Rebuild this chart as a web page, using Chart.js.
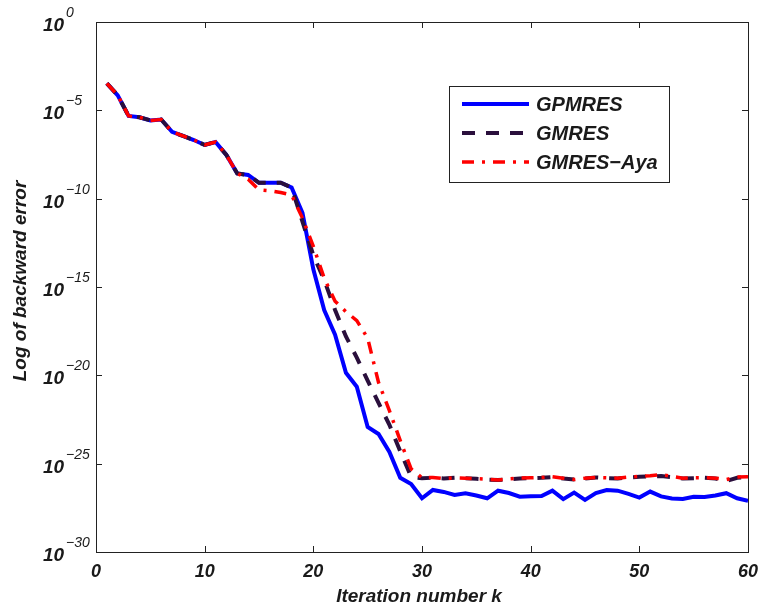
<!DOCTYPE html>
<html>
<head>
<meta charset="utf-8">
<script src="https://cdn.jsdelivr.net/npm/chart.js@4"></script>
<style>
  html, body { margin: 0; padding: 0; background: #fff; }
  canvas { display: block; }
</style>
</head>
<body>
<canvas id="myChart" width="762" height="611"></canvas>
<script>
// iteration number k
const iterations = [1, 2, 3, 4, 5, 6, 7, 8, 9, 10, 11, 12, 13, 14, 15, 16, 17, 18, 19, 20,
  21, 22, 23, 24, 25, 26, 27, 28, 29, 30, 31, 32, 33, 34, 35, 36, 37, 38, 39, 40,
  41, 42, 43, 44, 45, 46, 47, 48, 49, 50, 51, 52, 53, 54, 55, 56, 57, 58, 59, 60];

// log10 of the backward error
const gpmresExp = [-3.47, -4.15, -5.32, -5.39, -5.57, -5.52, -6.22, -6.45, -6.68, -6.96,
  -6.79, -7.53, -8.57, -8.66, -9.1, -9.1, -9.1, -9.37, -10.8, -14.0,
  -16.3, -17.7, -19.86, -20.64, -22.92, -23.32, -24.34, -25.8, -26.15, -26.96,
  -26.49, -26.6, -26.77, -26.67, -26.8, -26.96, -26.53, -26.66, -26.87, -26.85,
  -26.83, -26.53, -27.01, -26.64, -27.05, -26.66, -26.49, -26.53, -26.71, -26.92,
  -26.58, -26.85, -26.97, -27.0, -26.87, -26.88, -26.8, -26.67, -26.96, -27.1];

const gmresExp = [-3.47, -4.15, -5.32, -5.39, -5.57, -5.52, -6.22, -6.45, -6.68, -6.96,
  -6.79, -7.53, -8.57, -8.66, -9.1, -9.1, -9.1, -9.37, -11.3, -13.2,
  -14.6, -16.3, -17.8, -19.0, -20.3, -21.56, -22.8, -24.3, -25.75, -25.82,
  -25.8, -25.84, -25.8, -25.83, -25.86, -25.9, -25.92, -25.88, -25.84, -25.82,
  -25.8, -25.76, -25.84, -25.9, -25.84, -25.78, -25.82, -25.84, -25.78, -25.74,
  -25.72, -25.7, -25.76, -25.84, -25.82, -25.8, -25.84, -25.98, -25.8, -25.76];

const gmresAyaExp = [-3.47, -4.15, -5.32, -5.39, -5.57, -5.52, -6.22, -6.45, -6.68, -6.96,
  -6.79, -7.53, -8.57, -8.9, -9.5, -9.55, -9.65, -9.8, -11.1, -12.7,
  -14.5, -15.8, -16.4, -16.9, -17.9, -20.4, -22.0, -23.7, -25.3, -25.8,
  -25.78, -25.85, -25.8, -25.82, -25.85, -25.88, -25.92, -25.86, -25.82, -25.8,
  -25.78, -25.74, -25.82, -25.9, -25.82, -25.78, -25.8, -25.82, -25.76, -25.72,
  -25.68, -25.62, -25.72, -25.82, -25.8, -25.8, -25.82, -25.9, -25.76, -25.74];

const xTicks = [0, 10, 20, 30, 40, 50, 60];
const yTickExps = [0, -5, -10, -15, -20, -25, -30];

const chartSelect = document.getElementById('myChart');

let toPoints = (exps) => iterations.map((k, i) => ({ x: k, y: Math.pow(10, exps[i]) }));

const boldItalic = (size) => 'italic bold ' + size + 'px "Liberation Sans", Arial, sans-serif';

// frame, inward ticks, labels and legend drawn MATLAB style
const matlabAxes = {
  id: 'matlabAxes',
  afterDraw(chart) {
    const ctx = chart.ctx;
    const area = chart.chartArea;
    const xs = chart.scales.x;
    const ys = chart.scales.y;
    const tl = 6;
    ctx.save();
    ctx.strokeStyle = '#222';
    ctx.lineWidth = 1;
    ctx.strokeRect(area.left + 0.5, area.top + 0.5, area.right - area.left, area.bottom - area.top);

    ctx.beginPath();
    xTicks.forEach(t => {
      const px = Math.round(xs.getPixelForValue(t)) + 0.5;
      ctx.moveTo(px, area.bottom); ctx.lineTo(px, area.bottom - tl);
      ctx.moveTo(px, area.top); ctx.lineTo(px, area.top + tl);
    });
    yTickExps.forEach(e => {
      const py = Math.round(ys.getPixelForValue(Math.pow(10, e))) + 0.5;
      ctx.moveTo(area.left, py); ctx.lineTo(area.left + tl, py);
      ctx.moveTo(area.right, py); ctx.lineTo(area.right - tl, py);
    });
    ctx.stroke();

    ctx.fillStyle = '#1a1a1a';
    // x tick labels
    ctx.font = boldItalic(18);
    ctx.textAlign = 'center';
    ctx.textBaseline = 'alphabetic';
    xTicks.forEach(t => {
      ctx.fillText(String(t), xs.getPixelForValue(t), area.bottom + 25);
    });
    // y tick labels 10^e
    yTickExps.forEach(e => {
      const py = ys.getPixelForValue(Math.pow(10, e));
      ctx.textAlign = 'left';
      ctx.font = boldItalic(19);
      ctx.fillText('10', 43, py + 9);
      ctx.font = 'italic 14px "Liberation Sans", Arial, sans-serif';
      ctx.fillText(e === 0 ? '0' : '\u2212' + Math.abs(e), 66, py - 5);
    });
    // axis titles
    ctx.font = boldItalic(19);
    ctx.textAlign = 'center';
    ctx.fillText('Iteration number k', (area.left + area.right) / 2 - 3, area.bottom + 50);
    ctx.save();
    ctx.translate(26, 281);
    ctx.rotate(-Math.PI / 2);
    ctx.fillText('Log of backward error', 0, 0);
    ctx.restore();

    // legend
    const lx = 449, ly = 86, lw = 220, lh = 96;
    ctx.fillStyle = '#fff';
    ctx.fillRect(lx, ly, lw, lh);
    ctx.strokeStyle = '#222';
    ctx.lineWidth = 1;
    ctx.strokeRect(lx + 0.5, ly + 0.5, lw, lh);
    chart.data.datasets.forEach((ds, i) => {
      const y = ly + 18 + i * 29;
      ctx.save();
      ctx.strokeStyle = ds.borderColor;
      ctx.lineWidth = ds.borderWidth;
      ctx.setLineDash(ds.borderDash || []);
      ctx.beginPath();
      ctx.moveTo(lx + 13, y);
      ctx.lineTo(lx + 80, y);
      ctx.stroke();
      ctx.restore();
      ctx.fillStyle = '#1a1a1a';
      ctx.font = boldItalic(20);
      ctx.textAlign = 'left';
      ctx.fillText(ds.label, lx + 87, y + 7);
    });
    ctx.restore();
  }
};

var myChart = new Chart(chartSelect, {
  type: 'line',
  data: {
    datasets: [{
      label: 'GPMRES',
      data: toPoints(gpmresExp),
      borderColor: '#0000ff',
      borderWidth: 4,
      order: 2
    }, {
      label: 'GMRES',
      data: toPoints(gmresExp),
      borderColor: '#2a0f3c',
      borderWidth: 4,
      borderDash: [13, 11],
      order: 1
    }, {
      label: 'GMRES\u2212Aya',
      data: toPoints(gmresAyaExp),
      borderColor: '#ff0000',
      borderWidth: 3.5,
      borderDash: [12, 8, 3, 8],
      order: 0
    }]
  },
  options: {
    responsive: false,
    animation: false,
    layout: { padding: { left: 96, right: 14, top: 22, bottom: 59 } },
    elements: {
      point: { radius: 0 },
      line: { tension: 0, fill: false, borderCapStyle: 'butt' }
    },
    scales: {
      x: { type: 'linear', min: 0, max: 60, display: false },
      y: { type: 'logarithmic', min: 1e-30, max: 1, display: false }
    },
    plugins: {
      legend: { display: false },
      tooltip: { enabled: false }
    }
  },
  plugins: [matlabAxes]
});
</script>
</body>
</html>
